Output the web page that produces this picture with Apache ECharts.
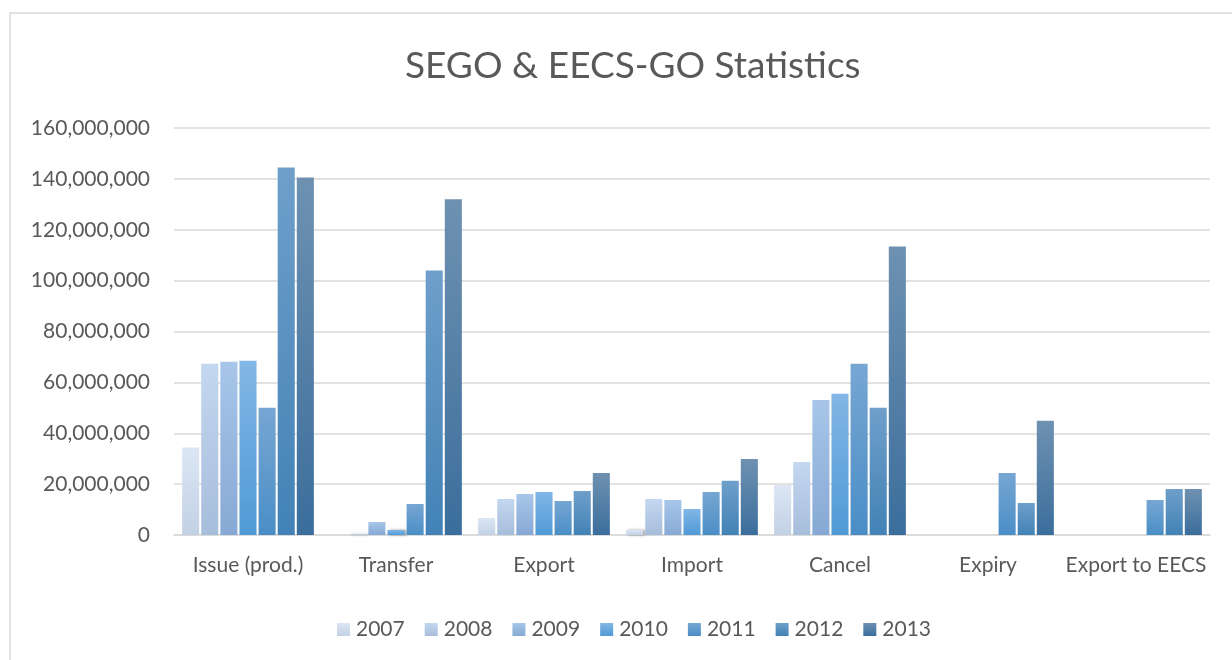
<!DOCTYPE html>
<html>
<head>
<meta charset="utf-8">
<script src="https://cdn.jsdelivr.net/npm/echarts@6/dist/echarts.min.js"></script>
<style>
  html, body { margin: 0; padding: 0; background: #fff; }
  #main { width: 1232px; height: 660px; }
</style>
</head>
<body>
<div id="main"></div>
<script>
// categories and year series
var categories = ['Issue (prod.)', 'Transfer', 'Export', 'Import', 'Cancel', 'Expiry', 'Export to EECS'];
var years = ['2007', '2008', '2009', '2010', '2011', '2012', '2013'];

var y2007 = [34400000, null, 6700000, 2000000, 19700000, null, null];
var y2008 = [67300000, 300000, 14200000, 14200000, 28700000, null, null];
var y2009 = [68100000, 5100000, 16100000, 13800000, 53100000, null, null];
var y2010 = [68500000, 2000000, 16900000, 10200000, 55500000, null, null];
var y2011 = [50000000, 12200000, 13400000, 16900000, 67300000, 24400000, 13800000];
var y2012 = [144500000, 104000000, 17300000, 21300000, 50000000, 12600000, 18100000];
var y2013 = [140500000, 132000000, 24400000, 29900000, 113400000, 44900000, 18100000];

var yearData = [y2007, y2008, y2009, y2010, y2011, y2012, y2013];

// gradient top / bottom per year
var topColors = ['#dce6f4', '#c4d7f0', '#a7c6e9', '#82b6e6', '#77a6d3', '#6f9fca', '#6e91b1'];
var bottomColors = ['#c3d1e5', '#a6bddb', '#86a9d4', '#4f9ad6', '#4a8ec6', '#4282b6', '#3b6e9c'];

var myChart = echarts.init(document.getElementById('main'));

var fontName = 'Lato';
var textColor = '#595959';

function fmt(v) {
  return String(v).replace(/\B(?=(\d{3})+(?!\d))/g, ',');
}

var series = [];
for (var i = 0; i < years.length; i++) {
  series.push({
    name: years[i],
    type: 'bar',
    barGap: '12%',
    barCategoryGap: '11%',
    data: yearData[i],
    itemStyle: {
      color: new echarts.graphic.LinearGradient(0, 0, 0, 1, [
        { offset: 0, color: topColors[i] },
        { offset: 1, color: bottomColors[i] }
      ]),
      shadowColor: 'rgba(0,0,0,0.4)',
      shadowBlur: 3,
      shadowOffsetX: 2,
      shadowOffsetY: 0
    }
  });
}

option = {
  backgroundColor: '#fff',
  textStyle: { fontFamily: fontName },
  title: {
    text: 'SEGO & EECS-GO Statistics',
    left: 400,
    top: 43,
    textStyle: {
      fontFamily: fontName,
      fontSize: 37,
      fontWeight: 'normal',
      color: textColor
    }
  },
  legend: {
    left: 332,
    top: 614,
    itemWidth: 13,
    itemHeight: 13,
    itemGap: 20,
    icon: 'rect',
    textStyle: {
      fontFamily: fontName,
      fontSize: 21,
      color: textColor,
      padding: [0, 0, 0, 1]
    },
    data: years
  },
  grid: {
    left: 174,
    right: 22,
    top: 128,
    bottom: 125
  },
  xAxis: {
    type: 'category',
    data: categories,
    axisTick: { show: false },
    axisLine: { lineStyle: { color: '#d9d9d9', width: 1.5 } },
    axisLabel: {
      interval: 0,
      margin: 20,
      fontFamily: fontName,
      fontSize: 21,
      color: textColor
    }
  },
  yAxis: {
    type: 'value',
    min: 0,
    max: 160000000,
    interval: 20000000,
    axisLine: { show: false },
    axisTick: { show: false },
    splitLine: { lineStyle: { color: '#d9d9d9', width: 1.5 } },
    axisLabel: {
      margin: 24,
      fontFamily: fontName,
      fontSize: 21,
      color: textColor,
      formatter: fmt
    }
  },
  graphic: [
    {
      type: 'rect',
      shape: { x: 10, y: 13, width: 1240, height: 680 },
      style: { fill: null, stroke: '#d9d9d9', lineWidth: 1.5 },
      silent: true,
      z: -1
    }
  ],
  series: series
};

myChart.setOption(option);
</script>
</body>
</html>
